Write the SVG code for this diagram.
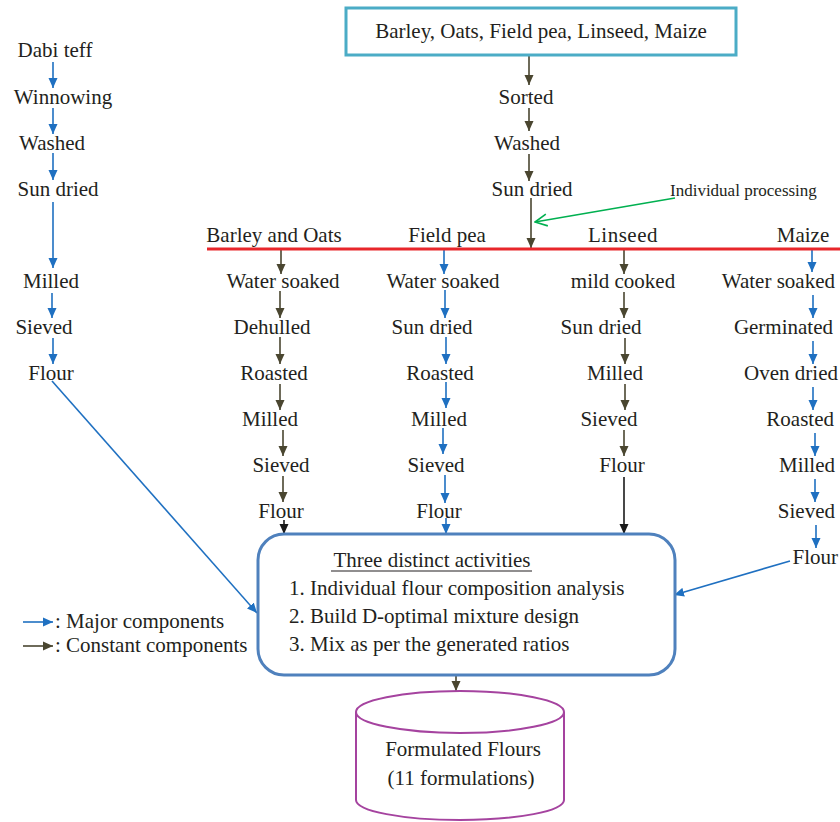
<svg xmlns="http://www.w3.org/2000/svg" width="840" height="822" viewBox="0 0 840 822">
<defs>
<marker id="ab" markerUnits="userSpaceOnUse" markerWidth="10" markerHeight="10" refX="10" refY="5" orient="auto"><path d="M0,0.5 L10,5 L0,9.5 z" fill="#1F70C1"/></marker>
<marker id="ao" markerUnits="userSpaceOnUse" markerWidth="10" markerHeight="10" refX="10" refY="5" orient="auto"><path d="M0,0.5 L10,5 L0,9.5 z" fill="#4A4630"/></marker>
<marker id="ak" markerUnits="userSpaceOnUse" markerWidth="10" markerHeight="10" refX="10" refY="5" orient="auto"><path d="M0,0.5 L10,5 L0,9.5 z" fill="#1A1A1A"/></marker>
<marker id="ag" markerUnits="userSpaceOnUse" markerWidth="14" markerHeight="14" refX="13" refY="7" orient="auto"><path d="M1,1 L13,7 L1,13" fill="none" stroke="#00B050" stroke-width="1.6"/></marker>
</defs>
<style>
text{font-family:"Liberation Serif","Times New Roman",serif;font-size:21px;fill:#231F20;text-anchor:middle}
.l{text-anchor:start}
.e{text-anchor:end}
.b{stroke:#1F70C1;stroke-width:1.6;fill:none;marker-end:url(#ab)}
.o{stroke:#4A4630;stroke-width:1.6;fill:none;marker-end:url(#ao)}
.k{stroke:#1A1A1A;stroke-width:1.6;fill:none;marker-end:url(#ak)}
</style>
<rect width="840" height="822" fill="#FFFFFF"/>

<g id="connectors">
<!-- top chain -->
<line class="o" x1="529" y1="56" x2="529" y2="85"/>
<line class="o" x1="529" y1="108" x2="529" y2="131"/>
<line class="o" x1="529" y1="154" x2="529" y2="181"/>
<line class="o" x1="531" y1="198" x2="531" y2="248"/>
<line x1="675" y1="198" x2="535" y2="222" stroke="#00B050" stroke-width="1.6" marker-end="url(#ag)"/>
<!-- left column -->
<line class="b" x1="53" y1="62" x2="53" y2="88"/>
<line class="b" x1="53" y1="108" x2="53" y2="134"/>
<line class="b" x1="53" y1="153" x2="53" y2="180"/>
<line class="b" x1="53" y1="202" x2="53" y2="268"/>
<line class="b" x1="52" y1="293" x2="52" y2="318"/>
<line class="b" x1="53" y1="338" x2="53" y2="364"/>
<line class="b" x1="52" y1="381" x2="257" y2="613"/>
<!-- Barley and Oats -->
<line class="o" x1="281" y1="250" x2="281" y2="274"/>
<line class="o" x1="280" y1="291" x2="280" y2="318"/>
<line class="o" x1="280" y1="337" x2="280" y2="364"/>
<line class="o" x1="280" y1="384" x2="280" y2="410"/>
<line class="o" x1="283" y1="430" x2="283" y2="456"/>
<line class="o" x1="283" y1="476" x2="283" y2="502"/>
<line class="k" x1="284" y1="520" x2="284" y2="534"/>
<!-- Field pea -->
<line class="b" x1="444" y1="250" x2="444" y2="274"/>
<line class="b" x1="445" y1="290" x2="445" y2="318"/>
<line class="b" x1="446" y1="337" x2="446" y2="364"/>
<line class="b" x1="446" y1="382" x2="446" y2="408"/>
<line class="b" x1="443" y1="428" x2="443" y2="454"/>
<line class="b" x1="445" y1="475" x2="445" y2="503"/>
<line class="b" x1="446" y1="518" x2="446" y2="534"/>
<!-- Linseed -->
<line class="o" x1="624" y1="250" x2="624" y2="274"/>
<line class="o" x1="624" y1="292" x2="624" y2="318"/>
<line class="o" x1="625" y1="338" x2="625" y2="364"/>
<line class="o" x1="625" y1="384" x2="625" y2="410"/>
<line class="o" x1="624" y1="430" x2="624" y2="456"/>
<line class="k" x1="624" y1="477" x2="624" y2="534"/>
<!-- Maize -->
<line class="b" x1="812" y1="250" x2="812" y2="272"/>
<line class="b" x1="813" y1="295" x2="813" y2="318"/>
<line class="b" x1="813" y1="341" x2="813" y2="364"/>
<line class="b" x1="813" y1="387" x2="813" y2="410"/>
<line class="b" x1="815" y1="433" x2="815" y2="456"/>
<line class="b" x1="815" y1="479" x2="815" y2="502"/>
<line class="b" x1="816" y1="525" x2="816" y2="548"/>
<line class="b" x1="790" y1="561" x2="674" y2="595"/>
<!-- box to cylinder -->
<line class="o" x1="456" y1="676" x2="456" y2="691"/>
</g>

<g id="source">
<rect x="346" y="8" width="390" height="47" fill="#FFFFFF" stroke="#4BACC6" stroke-width="3"/>
<text x="541" y="38">Barley, Oats, Field pea, Linseed, Maize</text>
</g>
<g id="sorted"><text x="526" y="104">Sorted</text></g>
<g id="washed"><text x="527" y="150">Washed</text></g>
<g id="sundried"><text x="532" y="196">Sun dried</text></g>
<g id="individual-processing"><text class="l" x="670" y="196" style="font-size:17px">Individual processing</text></g>

<g id="split-line"><line x1="207" y1="249" x2="840" y2="249" stroke="#E8262B" stroke-width="3"/></g>

<g id="teff">
<text x="55" y="57">Dabi teff</text>
<text x="63" y="104">Winnowing</text>
<text x="52" y="150">Washed</text>
<text x="58" y="196">Sun dried</text>
<text x="51" y="288">Milled</text>
<text x="44" y="334">Sieved</text>
<text x="51" y="380">Flour</text>
</g>

<g id="barley-oats">
<text x="274" y="242">Barley and Oats</text>
<text x="283" y="288">Water soaked</text>
<text x="272" y="334">Dehulled</text>
<text x="274" y="380">Roasted</text>
<text x="270" y="426">Milled</text>
<text x="281" y="472">Sieved</text>
<text x="281" y="518">Flour</text>
</g>

<g id="field-pea">
<text x="447" y="242">Field pea</text>
<text x="443" y="288">Water soaked</text>
<text x="432" y="334">Sun dried</text>
<text x="440" y="380">Roasted</text>
<text x="439" y="426">Milled</text>
<text x="436" y="472">Sieved</text>
<text x="439" y="518">Flour</text>
</g>

<g id="linseed">
<text x="623" y="242" style="letter-spacing:0.5px">Linseed</text>
<text x="623" y="288">mild cooked</text>
<text x="601" y="334">Sun dried</text>
<text x="615" y="380">Milled</text>
<text x="609" y="426">Sieved</text>
<text x="622" y="472">Flour</text>
</g>

<g id="maize">
<text x="803" y="242">Maize</text>
<text class="e" x="835" y="288">Water soaked</text>
<text class="e" x="833" y="334">Germinated</text>
<text class="e" x="838" y="380">Oven dried</text>
<text class="e" x="834" y="426">Roasted</text>
<text class="e" x="835" y="472">Milled</text>
<text class="e" x="835" y="518">Sieved</text>
<text class="e" x="838" y="564">Flour</text>
</g>

<g id="activities">
<rect x="258" y="534" width="417" height="141" rx="26" ry="26" fill="#FFFFFF" stroke="#4F81BD" stroke-width="3"/>
<text x="432" y="567">Three distinct activities</text>
<line x1="331" y1="571" x2="532" y2="571" stroke="#231F20" stroke-width="1.2"/>
<text class="l" x="289" y="595">1. Individual flour composition analysis</text>
<text class="l" x="289" y="623">2. Build D-optimal mixture design</text>
<text class="l" x="289" y="651">3. Mix as per the generated ratios</text>
</g>

<g id="formulated-flours">
<path d="M356,712 L356,800 A104,20 0 0 0 564,800 L564,712" fill="#FFFFFF" stroke="#A5439F" stroke-width="2"/>
<ellipse cx="460" cy="712" rx="104" ry="21" fill="#FFFFFF" stroke="#A5439F" stroke-width="2"/>
<text x="463" y="756">Formulated Flours</text>
<text x="461" y="785">(11 formulations)</text>
</g>

<g id="legend">
<line class="b" x1="23" y1="622" x2="53" y2="622"/>
<text class="l" x="55" y="628">: Major components</text>
<line class="o" x1="23" y1="646" x2="53" y2="646"/>
<text class="l" x="55" y="652">: Constant components</text>
</g>
</svg>
